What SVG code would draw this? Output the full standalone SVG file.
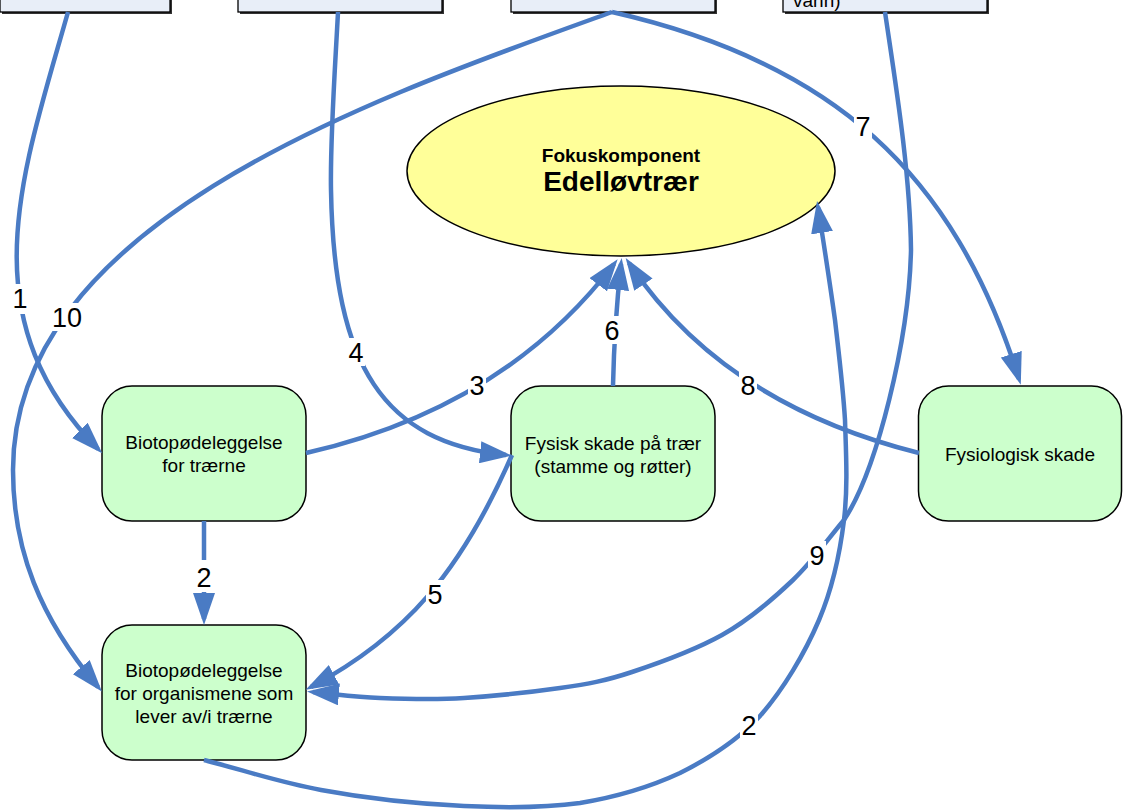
<svg xmlns="http://www.w3.org/2000/svg" width="1123" height="810" viewBox="0 0 1123 810">
  <defs>
    <marker id="ah" markerUnits="userSpaceOnUse" markerWidth="32" markerHeight="22" viewBox="0 0 32 22" refX="26" refY="11" orient="auto">
      <path d="M0,0 L32,11 L0,22 z" fill="#4A7BC4"/>
    </marker>
    <style>
      .top { fill: #E8EEF8; stroke: #000; stroke-width: 1.3; }
      .shadow { fill: #333; }
      .node { fill: #CCFFCC; stroke: #000; stroke-width: 1.5; }
      .focus { fill: #FFFF99; stroke: #000; stroke-width: 1.5; }
      .txt { font-family: "Liberation Sans", Arial, sans-serif; font-size: 19px; fill: #000; text-anchor: middle; }
      .edge { fill: none; stroke: #4A7BC4; stroke-width: 4.5; marker-end: url(#ah); }
      .plain { fill: none; stroke: #4A7BC4; stroke-width: 4.5; }
      .lblbg { fill: #fff; }
      .lbl { font-family: "Liberation Sans", Arial, sans-serif; font-size: 27px; fill: #000; text-anchor: middle; }
    </style>
  </defs>

  <rect width="1123" height="810" fill="#fff"/>

  <!-- source boxes along the top edge -->
  <g id="src1">
    <rect class="shadow" x="2" y="-20" width="170" height="34"/>
    <rect class="top" x="0" y="-22" width="170" height="34"/>
  </g>
  <g id="src2">
    <rect class="shadow" x="240" y="-20" width="204" height="34"/>
    <rect class="top" x="238" y="-22" width="204" height="34"/>
  </g>
  <g id="src3">
    <rect class="shadow" x="513" y="-20" width="204" height="34"/>
    <rect class="top" x="511" y="-22" width="204" height="34"/>
  </g>
  <g id="src4">
    <rect class="shadow" x="785" y="-20" width="204" height="34"/>
    <rect class="top" x="783" y="-22" width="204" height="34"/>
    <text class="txt" x="793" y="7" style="text-anchor:start">vann)</text>
  </g>

  <!-- focus component -->
  <g id="focus">
    <ellipse class="focus" cx="621" cy="171" rx="214" ry="85"/>
    <text class="txt" x="621" y="162" style="font-weight:bold">Fokuskomponent</text>
    <text class="txt" x="621" y="191" style="font-weight:bold;font-size:28px">Edelløvtrær</text>
  </g>

  <g id="biotop-trees">
    <rect class="node" x="102" y="386" width="204" height="135" rx="30"/>
    <text class="txt" x="204" y="449">Biotopødeleggelse</text>
    <text class="txt" x="204" y="472">for trærne</text>
  </g>

  <g id="physical-damage">
    <rect class="node" x="511" y="386" width="204" height="135" rx="30"/>
    <text class="txt" x="613" y="450">Fysisk skade på trær</text>
    <text class="txt" x="613" y="473">(stamme og røtter)</text>
  </g>

  <g id="physiological-damage">
    <rect class="node" x="918.5" y="386" width="203" height="135" rx="30"/>
    <text class="txt" x="1020" y="461">Fysiologisk skade</text>
  </g>

  <g id="biotop-organisms">
    <rect class="node" x="102" y="625" width="204" height="135" rx="30"/>
    <text class="txt" x="204" y="677">Biotopødeleggelse</text>
    <text class="txt" x="204" y="700">for organismene som</text>
    <text class="txt" x="204" y="723">lever av/i trærne</text>
  </g>

  <!-- connectors -->
  <g id="connectors">
    <path id="e1" class="edge" d="M68,12 C22,175 -32,316 98,449"/>
    <path id="e10" class="edge" d="M612,12 C377,97 13,220 13,470 C13,550 40,618 98,687"/>
    <path id="e7" class="edge" d="M612,12 C832,62 954,172 1019,379"/>
    <path id="e4" class="edge" d="M338,12 C335,70 330,140 331,190 C334,368 384,442 506,455"/>
    <path id="e3" class="edge" d="M306,453 Q504,408 614,264"/>
    <path id="e6" class="edge" d="M613,386 C614,340 617,300 621,264"/>
    <path id="e8" class="edge" d="M919,453 Q723,404 629,263"/>
    <path id="e5" class="edge" d="M512,455 C461,572 405,637 311,687"/>
    <path id="e2a" class="edge" d="M204,521 L204,619"/>
    <path id="e9" class="edge" d="M885,12 C895,80 910,170 911,250 C909,340 877,470 844,520 C827,540 813,561 793,580 C773,599 749,620 722,635 C695,650 659,663 632,672 C605,681 588,684 560,688 C532,692 494,696 464,698 C434,700 405,699 380,698 C355,697 335,694 313,692"/>
    <path id="e2b" class="edge" d="M204,760 C243,770 278,782 321,790 C364,798 421,804 464,806 C507,808 544,808 580,803 C616,797 650,787 680,773 C710,758 737,741 760,716 C783,690 805,653 819,620 C833,587 840,553 844,520 C848,487 846,453 845,420 C843,387 839,355 835,320 C830,284 824,245 818,207"/>

    <!-- connector labels -->
    <g id="labels">
      <rect class="lblbg" x="11" y="284" width="18" height="30"/>
      <text class="lbl" x="20" y="308">1</text>
      <rect class="lblbg" x="51" y="303" width="33" height="28"/>
      <text class="lbl" x="67" y="327">10</text>
      <rect class="lblbg" x="347" y="338" width="18" height="28"/>
      <text class="lbl" x="356" y="362">4</text>
      <rect class="lblbg" x="468" y="371" width="18" height="28"/>
      <text class="lbl" x="477" y="395">3</text>
      <rect class="lblbg" x="603" y="316" width="18" height="28"/>
      <text class="lbl" x="612" y="340">6</text>
      <rect class="lblbg" x="739" y="371" width="18" height="28"/>
      <text class="lbl" x="748" y="395">8</text>
      <rect class="lblbg" x="854" y="112" width="18" height="28"/>
      <text class="lbl" x="863" y="136">7</text>
      <rect class="lblbg" x="426" y="580" width="18" height="28"/>
      <text class="lbl" x="435" y="604">5</text>
      <rect class="lblbg" x="808" y="541" width="18" height="28"/>
      <text class="lbl" x="817" y="565">9</text>
      <rect class="lblbg" x="195" y="560" width="18" height="32"/>
      <text class="lbl" x="204" y="587">2</text>
      <rect class="lblbg" x="740" y="711" width="18" height="28"/>
      <text class="lbl" x="749" y="735">2</text>
    </g>
  </g>
</svg>
